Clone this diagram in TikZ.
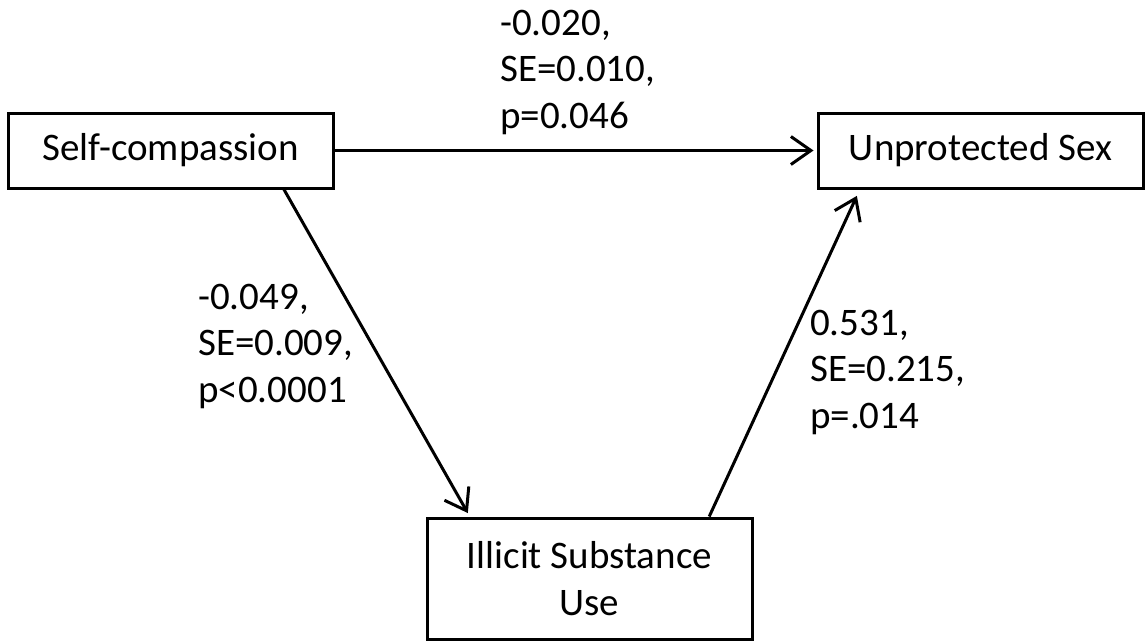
\documentclass[tikz,border=0pt]{standalone}
\usepackage{fontspec}
\setmainfont{Carlito}
\usetikzlibrary{arrows.meta,calc}
\begin{document}
\begin{tikzpicture}[x=1pt,y=-1pt,
  boxnode/.style={draw,line width=3pt,minimum width=325pt,inner sep=0pt,align=center,font=\fontsize{39}{46.5}\selectfont},
  lab/.style={inner sep=0pt,align=left,anchor=west,font=\fontsize{39}{46.5}\selectfont},
  conn/.style={line width=3pt,-{Straight Barb[length=20pt,width=28pt,line width=3pt]}}]
\useasboundingbox (0,0) rectangle (1147,641);
\node[boxnode,minimum height=75pt] (sc) at (170.5,150.5) {Self-compassion};
\node[boxnode,minimum height=75pt] (us) at (980.5,150.5) {Unprotected Sex};
\node[boxnode,minimum height=121pt] (ill) at (589.5,578.5) {Illicit Substance\\Use};
\draw[conn,shorten >=3pt] (sc.east) -- (us.west);
\draw[conn,shorten >=4pt] ($(sc.south west)!0.846!(sc.south east)$) -- ($(ill.north west)!0.135!(ill.north east)$);
\draw[conn,shorten >=7pt] ($(ill.north west)!0.865!(ill.north east)$) -- ($(us.south west)!0.132!(us.south east)$);
\node[lab] (l1) at (500,72) {-0.020,\\SE=0.010,\\p=0.046};
\node[lab] (l2) at (198,346) {-0.049,\\SE=0.009,\\p<0.0001};
\node[lab] (l3) at (810,372) {0.531,\\SE=0.215,\\p=.014};
\end{tikzpicture}
\end{document}
